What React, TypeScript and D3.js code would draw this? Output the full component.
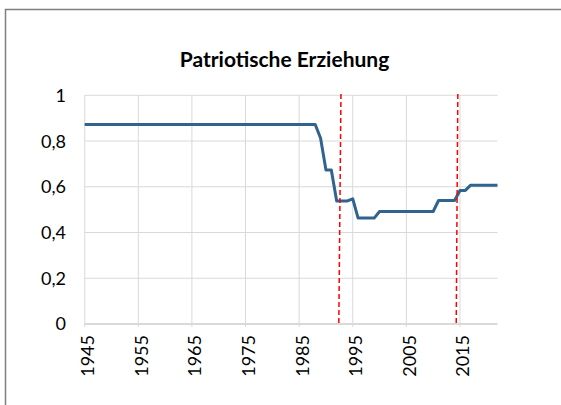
import React from "react";
import * as d3 from "d3";

const title = "Patriotische Erziehung";
const startYear = 1945;
const endYear = 2022;
// values per year 1945..2022
const flatEra = 0.872; // 1945..1988
const laterYears = [1989, 1990, 1991, 1992, 1993, 1994, 1995, 1996, 1997, 1998, 1999, 2000, 2001, 2002, 2003, 2004, 2005, 2006, 2007, 2008, 2009, 2010, 2011, 2012, 2013, 2014, 2015, 2016, 2017, 2018, 2019, 2020, 2021, 2022];
const laterValues = [0.812, 0.673, 0.673, 0.538, 0.538, 0.538, 0.547, 0.463, 0.463, 0.463, 0.463, 0.492, 0.492, 0.492, 0.492, 0.492, 0.492, 0.492, 0.492, 0.492, 0.492, 0.492, 0.54, 0.54, 0.54, 0.54, 0.584, 0.584, 0.607, 0.607, 0.607, 0.607, 0.607, 0.607];
const xTicks = [1945, 1955, 1965, 1975, 1985, 1995, 2005, 2015];
const yTicks = [0, 0.2, 0.4, 0.6, 0.8, 1];
const yTickLabels = ["0", "0,2", "0,4", "0,6", "0,8", "1"];
// red dashed markers: [year at top, year at bottom]
const markers = [
  [1992.8, 1992.4],
  [2014.6, 2014.3],
];

const W = 561;
const H = 405;
const left = 84.7;
const right = 497.5;
const top = 95.3;
const bottom = 324;

export default function App() {
  const data: { year: number; value: number }[] = [];
  for (let y = startYear; y <= 1988; y++) data.push({ year: y, value: flatEra });
  laterYears.forEach((y, i) => data.push({ year: y, value: laterValues[i] }));

  const x = d3.scaleLinear().domain([startYear, endYear]).range([left, right]);
  const y = d3.scaleLinear().domain([0, 1]).range([bottom, top]);
  const line = d3
    .line<{ year: number; value: number }>()
    .x((d) => x(d.year))
    .y((d) => y(d.value));

  const font = "Lato, 'Open Sans', sans-serif";

  return (
    <svg
      width={W}
      height={H}
      style={{ position: "absolute", left: 0, top: 0, background: "#fff" }}
      fontFamily={font}
    >
      <rect x={5.5} y={9.5} width={W + 20} height={H + 20} fill="#fff" stroke="#7f7f7f" strokeWidth={1.5} />
      <text x={284.5} y={67.3} textAnchor="middle" fontSize={21} fontWeight="bold" fill="#000">
        {title}
      </text>
      {yTicks.map((t) => (
        <line key={"gy" + t} x1={left} x2={right} y1={y(t)} y2={y(t)} stroke="#d9d9d9" strokeWidth={t === 0 ? 2 : 1} />
      ))}
      {xTicks.map((t) => (
        <line key={"gx" + t} x1={x(t)} x2={x(t)} y1={top} y2={bottom + 3} stroke="#d9d9d9" strokeWidth={1} />
      ))}
      {yTicks.map((t, i) => (
        <text key={"ly" + t} x={66} y={y(t)} dy="0.36em" textAnchor="end" fontSize={18} fill="#000">
          {yTickLabels[i]}
        </text>
      ))}
      {xTicks.map((t) => (
        <text
          key={"lx" + t}
          transform={`translate(${x(t) + 3},${335}) rotate(-90)`}
          dy="0.36em"
          textAnchor="end"
          fontSize={18}
          fill="#000"
        >
          {t}
        </text>
      ))}
      <path d={line(data) || ""} fill="none" stroke="#30648f" strokeWidth={3} strokeLinejoin="round" />
      {markers.map((m, i) => (
        <line key={"m" + i} x1={x(m[0])} x2={x(m[1])} y1={94} y2={bottom} stroke="#ff0000" strokeWidth={1.5} strokeDasharray="5,3" />
      ))}
    </svg>
  );
}
